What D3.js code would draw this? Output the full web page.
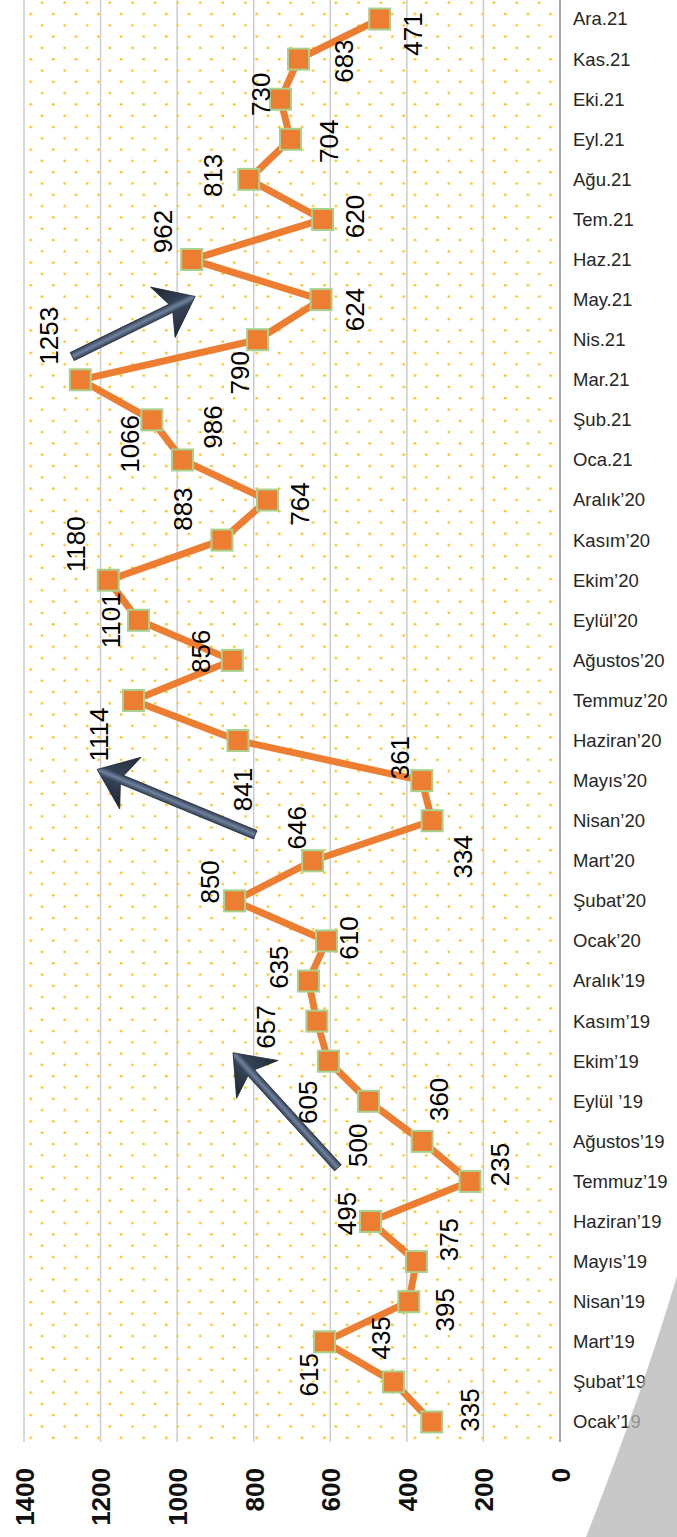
<!DOCTYPE html>
<html>
<head>
<meta charset="utf-8">
<script src="https://cdn.jsdelivr.net/npm/d3@7"></script>
<style>
  body { margin: 0; background: #fff; }
  svg { display: block; }
</style>
</head>
<body>
<div id="chart"></div>
<script>
// months, bottom to top
const categories = [
  "Ocak’19", "Şubat’19", "Mart’19", "Nisan’19", "Mayıs’19", "Haziran’19",
  "Temmuz’19", "Ağustos’19", "Eylül ’19", "Ekim’19", "Kasım’19", "Aralık’19",
  "Ocak’20", "Şubat’20", "Mart’20", "Nisan’20", "Mayıs’20", "Haziran’20",
  "Temmuz’20", "Ağustos’20", "Eylül’20", "Ekim’20", "Kasım’20", "Aralık’20",
  "Oca.21", "Şub.21", "Mar.21", "Nis.21", "May.21", "Haz.21",
  "Tem.21", "Ağu.21", "Eyl.21", "Eki.21", "Kas.21", "Ara.21"
];

const values = [
  335, 435, 615, 395, 375, 495,
  235, 360, 500, 605, 635, 657,
  610, 850, 646, 334, 361, 841,
  1114, 856, 1101, 1180, 883, 764,
  986, 1066, 1253, 790, 624, 962,
  620, 813, 704, 730, 683, 471
];

const valueTicks = [0, 200, 400, 600, 800, 1000, 1200, 1400];

// where each data label sits relative to its marker (screen px)
const labelOffsets = [
  [38, -12], [-13, -44], [-16, 33], [36, 8], [32, -22], [-24, -8],
  [30, -17], [16, -42], [-11, 44], [-21, 41], [-38, -54], [-43, 46],
  [22, -3], [-25, -19], [-16, -33], [30, 36], [-22, -23], [5, 49],
  [-35, 34], [-32, -9], [-28, 0], [-33, -36], [-39, -31], [32, 4],
  [30, -33], [-22, 24], [-32, -44], [-18, 33], [34, 10], [-29, -28],
  [32, -3], [-36, -4], [38, 2], [-20, -5], [45, 2], [33, 15]
];

// annotation arrows, [month index, value]
const arrows = [
  { from: [26.58, 1274], to: [28.08, 953] },
  { from: [14.65, 796], to: [16.28, 1209] },
  { from: [6.34, 580], to: [9.21, 854] }
];

const width = 677;
const height = 1537;
const plotLeft = 24, plotRight = 560, plotTop = -1, plotBottom = 1442;

const svg = d3.select("#chart")
  .append("svg")
  .attr("width", width)
  .attr("height", height);

const defs = svg.append("defs");

const pat = defs.append("pattern")
  .attr("id", "dots")
  .attr("patternUnits", "userSpaceOnUse")
  .attr("width", 22.6)
  .attr("height", 22.6);
pat.append("circle").attr("cx", 8.1).attr("cy", 14).attr("r", 1.3).attr("fill", "#FFC000");
pat.append("circle").attr("cx", 19.4).attr("cy", 2.7).attr("r", 1.3).attr("fill", "#FFC000");

/* scales: value runs right to left, months bottom to top */
const xScale = d3.scaleLinear()
  .domain([0, 1400])
  .range([plotRight, plotLeft]);

const yScale = d3.scalePoint()
  .domain(categories)
  .range([plotBottom, plotTop])
  .padding(0.5);

const yIndex = d3.scaleLinear()
  .domain([0, categories.length - 1])
  .range([yScale(categories[0]), yScale(categories[categories.length - 1])]);

// plot background
svg.append("rect")
  .attr("x", plotLeft)
  .attr("y", 0)
  .attr("width", plotRight - plotLeft)
  .attr("height", plotBottom)
  .attr("fill", "url(#dots)");

// gridlines
svg.append("g")
  .selectAll("line")
  .data(valueTicks.filter(d => d > 0))
  .join("line")
  .attr("x1", d => xScale(d))
  .attr("x2", d => xScale(d))
  .attr("y1", 0)
  .attr("y2", plotBottom)
  .attr("stroke", "#cccccc")
  .attr("stroke-width", 1.5);

// value axis, labels rotated
const xAxis = d3.axisBottom(xScale)
  .tickValues(valueTicks)
  .tickFormat(d3.format("d"))
  .tickSize(0)
  .tickPadding(0);

const xg = svg.append("g")
  .attr("transform", "translate(0," + plotBottom + ")")
  .call(xAxis);
xg.select(".domain").remove();
xg.selectAll("text")
  .attr("transform", "translate(0,26) rotate(-90)")
  .attr("x", 0)
  .attr("y", 0)
  .attr("dy", "0.36em")
  .attr("text-anchor", "end")
  .attr("font-family", "'Liberation Sans', Arial, sans-serif")
  .attr("font-size", 26)
  .attr("font-weight", "bold")
  .attr("fill", "#111");

// category axis on the right
const yAxis = d3.axisRight(yScale)
  .tickSize(0)
  .tickPadding(13);

const yg = svg.append("g")
  .attr("transform", "translate(" + plotRight + ",0)")
  .call(yAxis);
yg.select(".domain")
  .attr("d", "M0,0V" + plotBottom)
  .attr("stroke", "#a6a6a6")
  .attr("stroke-width", 2);
yg.selectAll("text")
  .attr("font-family", "'Liberation Sans', Arial, sans-serif")
  .attr("font-size", 18.5)
  .attr("fill", "#262626");

// line
const line = d3.line()
  .x(d => xScale(d.value))
  .y(d => yScale(d.cat));

const points = categories.map((c, i) => ({ cat: c, value: values[i], off: labelOffsets[i] }));

svg.append("path")
  .datum(points)
  .attr("d", line)
  .attr("fill", "none")
  .attr("stroke", "#ED7D31")
  .attr("stroke-width", 7)
  .attr("stroke-linejoin", "round");

// markers
const ms = 21;
svg.append("g")
  .selectAll("rect")
  .data(points)
  .join("rect")
  .attr("x", d => xScale(d.value) - ms / 2)
  .attr("y", d => yScale(d.cat) - ms / 2)
  .attr("width", ms)
  .attr("height", ms)
  .attr("fill", "#ED7D31")
  .attr("stroke", "#A9D18E")
  .attr("stroke-width", 2);

// data labels
svg.append("g")
  .selectAll("text")
  .data(points)
  .join("text")
  .attr("transform", d => "translate(" + (xScale(d.value) + d.off[0]) + "," +
    (yScale(d.cat) + d.off[1]) + ") rotate(-90)")
  .attr("text-anchor", "middle")
  .attr("dy", "0.36em")
  .attr("font-family", "'Liberation Sans', Arial, sans-serif")
  .attr("font-size", 26)
  .attr("fill", "#000")
  .text(d => d.value);

// arrows
arrows.forEach((a, k) => {
  const tx = xScale(a.from[1]), ty = yIndex(a.from[0]);
  const px = xScale(a.to[1]), py = yIndex(a.to[0]);
  const len = Math.hypot(px - tx, py - ty);
  const ux = (px - tx) / len, uy = (py - ty) / len;
  const nx = -uy, ny = ux;
  const w = 4.5, L = 36, H = 28, N = 9;
  const bx = px - ux * L, by = py - uy * L;
  const cx = px - ux * (L - N), cy = py - uy * (L - N);
  const pts = [
    [tx + nx * w, ty + ny * w],
    [cx + nx * w, cy + ny * w],
    [bx + nx * H, by + ny * H],
    [px, py],
    [bx - nx * H, by - ny * H],
    [cx - nx * w, cy - ny * w],
    [tx - nx * w, ty - ny * w]
  ];
  const g = defs.append("linearGradient")
    .attr("id", "arrowGrad" + k)
    .attr("gradientUnits", "userSpaceOnUse")
    .attr("x1", bx + nx * H).attr("y1", by + ny * H)
    .attr("x2", bx - nx * H).attr("y2", by - ny * H);
  g.append("stop").attr("offset", 0).attr("stop-color", "#222c38");
  g.append("stop").attr("offset", 0.42).attr("stop-color", "#344256");
  g.append("stop").attr("offset", 0.5).attr("stop-color", "#6f819e");
  g.append("stop").attr("offset", 0.58).attr("stop-color", "#344256");
  g.append("stop").attr("offset", 1).attr("stop-color", "#1c242f");
  svg.append("path")
    .attr("d", "M" + pts.map(p => p.join(",")).join("L") + "Z")
    .attr("fill", "url(#arrowGrad" + k + ")")
    .attr("stroke", "#1a212b")
    .attr("stroke-width", 0.8);
});

// grey corner shape
svg.append("path")
  .attr("d", "M677,1276 Q640,1400 586,1537 L677,1537 Z")
  .attr("fill", "#b5b5b5")
  .attr("opacity", 0.75);
</script>
</body>
</html>
